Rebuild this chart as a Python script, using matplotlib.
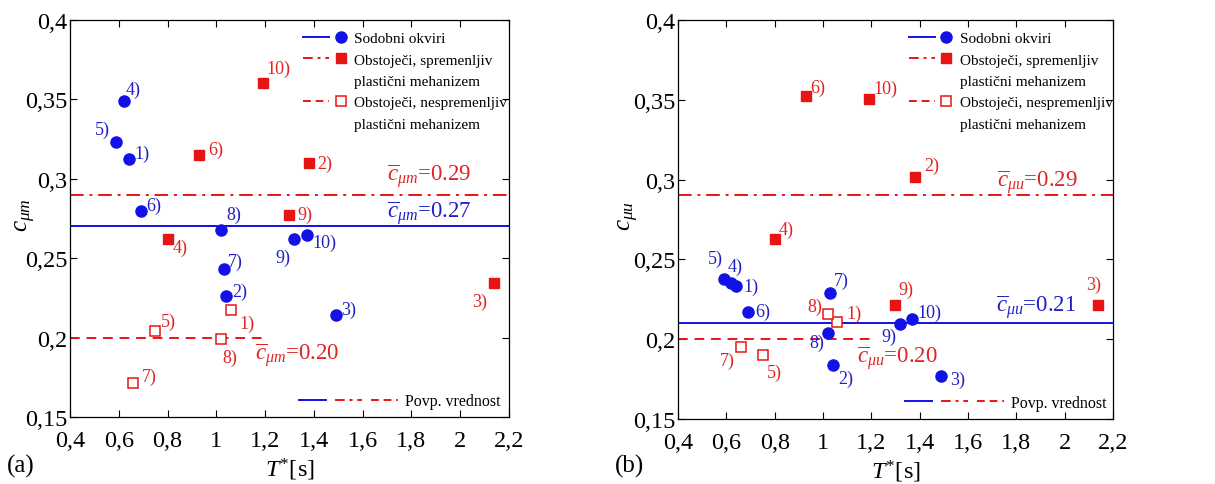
import matplotlib
matplotlib.use('Agg')
import matplotlib.pyplot as plt
from matplotlib.lines import Line2D
from matplotlib.legend_handler import HandlerTuple
from matplotlib.ticker import FuncFormatter

#-----------------------------------------------------------------------------#
# data

# modern frames (Sodobni okviri), buildings 1) .. 10)
T_NEW = [0.64, 1.04, 1.49, 0.62, 0.59, 0.69, 1.03, 1.02, 1.32, 1.37]
CUM_NEW = [0.3125, 0.226, 0.214, 0.349, 0.323, 0.2795, 0.243, 0.268, 0.262, 0.2645]
CUU_NEW = [0.233, 0.184, 0.177, 0.235, 0.238, 0.217, 0.229, 0.204, 0.2095, 0.2125]

# existing frames, buildings 1) .. 10)
T_OLD = [1.06, 1.38, 2.14, 0.80, 0.75, 0.93, 0.66, 1.02, 1.30, 1.19]
CUM_OLD = [0.2175, 0.310, 0.2345, 0.262, 0.204, 0.315, 0.1715, 0.199, 0.2775, 0.3605]
CUU_OLD = [0.211, 0.3015, 0.2215, 0.2628, 0.1903, 0.352, 0.195, 0.2155, 0.2215, 0.3505]
# variable plastic mechanism (filled) vs. invariable (open)
VARIABLE = [2, 3, 4, 6, 9, 10]
FIXED = [1, 5, 7, 8]

MEAN_NEW = {'m': 0.27, 'u': 0.21}
MEAN_VAR = {'m': 0.29, 'u': 0.29}
MEAN_FIX = {'m': 0.20, 'u': 0.20}

XTICKS = [0.4, 0.6, 0.8, 1.0, 1.2, 1.4, 1.6, 1.8, 2.0, 2.2]
YTICKS = [0.15, 0.2, 0.25, 0.3, 0.35, 0.4]

#-----------------------------------------------------------------------------#
# style

BLUE = '#1212e6'
BLUE_TXT = '#2020c8'
RED = '#e81414'
RED_TXT = '#e02424'
FONT = 'Liberation Serif'

plt.rcParams['font.family'] = FONT
plt.rcParams['mathtext.fontset'] = 'custom'
plt.rcParams['mathtext.rm'] = FONT
plt.rcParams['mathtext.it'] = FONT + ':italic'

DASHDOT = (0, (5, 2.5, 1.5, 2.5))
DASHED = (0, (4, 2.5))

# label offsets in pixels: (dx, dy, ha)
OFF = {
    'm': {
        'new': [(6, 6, 'left'), (6, 5, 'left'), (5, 6, 'left'), (2, 12, 'left'),
                (-6, 13, 'right'), (6, 6, 'left'), (4, 8, 'left'),
                (5, 15, 'left'), (-4, -18, 'right'), (6, -7, 'left')],
        'old': [(8, -13, 'left'), (8, 0, 'left'), (-7, -18, 'right'),
                (5, -8, 'left'), (6, 10, 'left'), (9, 6, 'left'),
                (8, 7, 'left'), (1, -18, 'left'), (8, 0, 'left'),
                (4, 14, 'left')],
    },
    'u': {
        'new': [(7, 0, 'left'), (6, -14, 'left'), (9, -3, 'left'),
                (-4, 17, 'left'), (-1, 20, 'right'), (7, 1, 'left'),
                (4, 13, 'left'), (-4, -10, 'right'), (-4, -12, 'right'),
                (5, 7, 'left')],
        'old': [(9, 8, 'left'), (9, 12, 'left'), (-5, 21, 'center'),
                (4, 10, 'left'), (4, -18, 'left'), (4, 9, 'left'),
                (-6, -13, 'right'), (-6, 8, 'right'), (3, 16, 'left'),
                (5, 11, 'left')],
    },
}

# mean labels: (x anchor, dy, ha)
MEAN_LBL = {
    'm': {'new': (2.048, 14, 'right'), 'var': (2.048, 19, 'right'),
          'fix': (1.158, -17, 'left')},
    'u': {'new': (2.05, 16, 'right'), 'var': (2.055, 14, 'right'),
          'fix': (1.139, -19, 'left')},
}

# y label centre (axes fraction)
YLAB_X = {'m': -0.1, 'u': -0.112}


def comma(v, pos):
    s = ('%.2f' % v).rstrip('0').rstrip('.')
    return s.replace('.', ',')


def label(ax, x, y, txt, off, color):
    dx, dy, ha = off
    ax.annotate(txt, (x, y), xytext=(dx, dy), textcoords='offset pixels',
                ha=ha, va='center', color=color, fontsize=13)


def panel(ax, key, cvals_new, cvals_old, tag):
    sub = r'\mu ' + key
    ax.axhline(MEAN_VAR[key], color=RED, lw=1.4, ls=(0, (7, 3, 1.5, 3)))
    ax.axhline(MEAN_NEW[key], color=BLUE, lw=1.4)
    ax.plot([0.4, 1.2], [MEAN_FIX[key]] * 2, color=RED, lw=1.4,
            ls=(0, (5, 3.5)))

    ax.plot(T_NEW, cvals_new, 'o', color=BLUE, ms=8, mec=BLUE)
    tv = [T_OLD[i - 1] for i in VARIABLE]
    cv = [cvals_old[i - 1] for i in VARIABLE]
    ax.plot(tv, cv, 's', color=RED, ms=7, mec=RED)
    tf = [T_OLD[i - 1] for i in FIXED]
    cf = [cvals_old[i - 1] for i in FIXED]
    ax.plot(tf, cf, 's', mfc='white', mec=RED, ms=7, mew=1.1)

    for i in range(10):
        label(ax, T_NEW[i], cvals_new[i], '%d)' % (i + 1),
              OFF[key]['new'][i], BLUE_TXT)
        label(ax, T_OLD[i], cvals_old[i], '%d)' % (i + 1),
              OFF[key]['old'][i], RED_TXT)

    for name, mean, col in (('var', MEAN_VAR, RED_TXT),
                            ('new', MEAN_NEW, BLUE_TXT),
                            ('fix', MEAN_FIX, RED_TXT)):
        x, dy, ha = MEAN_LBL[key][name]
        ax.annotate(r'$\overline{c}_{%s}$=%.2f' % (sub, mean[key]),
                    (x, mean[key]), xytext=(0, dy), textcoords='offset pixels',
                    ha=ha, va='center', color=col, fontsize=16.5)

    ax.set_xlim(0.4, 2.2)
    ax.set_ylim(0.15, 0.4)
    ax.set_xticks(XTICKS)
    ax.set_yticks(YTICKS)
    ax.xaxis.set_major_formatter(FuncFormatter(comma))
    ax.yaxis.set_major_formatter(FuncFormatter(comma))
    ax.tick_params(direction='in', top=True, right=True, labelsize=17.5,
                   length=5, width=0.8)
    ax.tick_params(axis='x', pad=9)
    ax.tick_params(axis='y', pad=2)
    for sp in ax.spines.values():
        sp.set_linewidth(0.9)
    ax.set_xlabel(r'$T^{*}$[s]', fontsize=17.5, labelpad=4)
    ax.set_ylabel(r'$c_{%s}$' % sub, fontsize=18, va='center')
    ax.yaxis.set_label_coords(YLAB_X[key], 0.51)

    # legend for the point groups
    empty = Line2D([], [], ls='none')
    h_new = (Line2D([], [], color=BLUE, lw=1.4),
             Line2D([], [], ls='none', marker='o', color=BLUE, ms=8))
    h_var = (Line2D([], [], color=RED, lw=1.4, ls=DASHDOT),
             Line2D([], [], ls='none', marker='s', color=RED, ms=7))
    h_fix = (Line2D([], [], color=RED, lw=1.4, ls=DASHED),
             Line2D([], [], ls='none', marker='s', mfc='white', mec=RED,
                    ms=7, mew=1.1))
    leg = ax.legend([h_new, h_var, empty, h_fix, empty],
                    ['Sodobni okviri', 'Obstoječi, spremenljiv',
                     'plastični mehanizem', 'Obstoječi, nespremenljiv',
                     'plastični mehanizem'],
                    handler_map={tuple: HandlerTuple(ndivide=None, pad=-0.13)},
                    loc='upper left', bbox_to_anchor=(0.514, 0.99),
                    frameon=False, fontsize=11, borderpad=0,
                    handlelength=3.3, handletextpad=0.05, labelspacing=0.5)
    ax.add_artist(leg)

    # legend for the mean lines
    h_mean = (Line2D([], [], color=BLUE, lw=1.4),
              Line2D([], [], color=RED, lw=1.4, ls=DASHDOT),
              Line2D([], [], color=RED, lw=1.4, ls=DASHED))
    ax.legend([h_mean], ['Povp. vrednost'],
              handler_map={tuple: HandlerTuple(ndivide=None, pad=0.55)},
              loc='center left', bbox_to_anchor=(0.504, 0.04),
              frameon=False, fontsize=11.5, borderpad=0,
              handlelength=6.2, handletextpad=0.45)

    fig = ax.figure
    pos = ax.get_position()
    fig.text(pos.x0 - 0.052, 0.015, tag, fontsize=18, ha='left',
             va='bottom')


fig = plt.figure(figsize=(12.15, 4.85), dpi=100)
ax1 = fig.add_axes([0.0576, 0.138, 0.3613, 0.8186])
ax2 = fig.add_axes([0.558, 0.134, 0.358, 0.823])

panel(ax1, 'm', CUM_NEW, CUM_OLD, '(a)')
panel(ax2, 'u', CUU_NEW, CUU_OLD, '(b)')

fig.savefig('out.png', dpi=100)
